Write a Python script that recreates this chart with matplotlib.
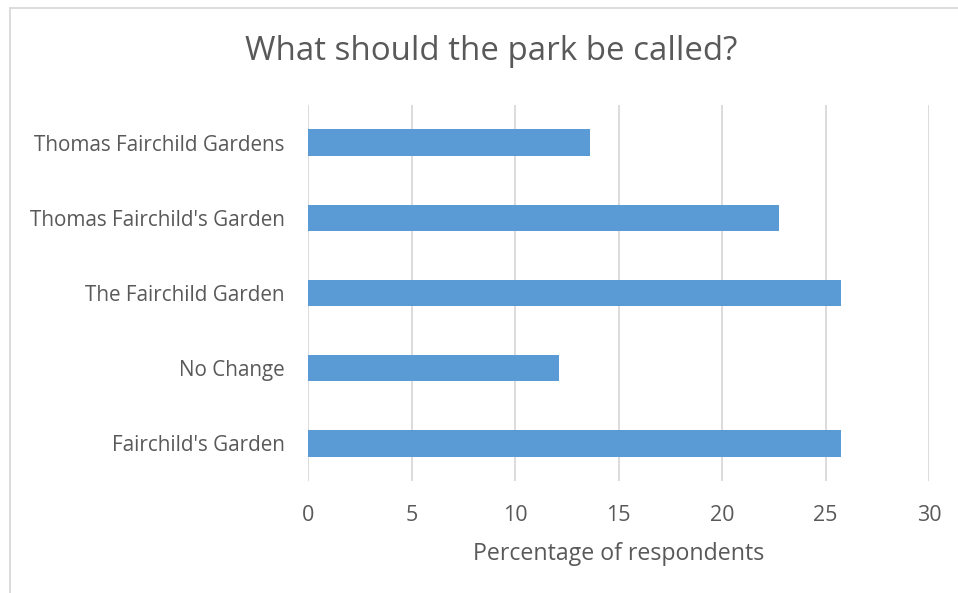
import matplotlib
matplotlib.use("Agg")
import matplotlib.pyplot as plt
from matplotlib.patches import Rectangle

categories = ["Fairchild's Garden", "No Change", "The Fairchild Garden",
              "Thomas Fairchild's Garden", "Thomas Fairchild Gardens"]
values = [25.76, 12.12, 25.76, 22.73, 13.64]
xticks = [0, 5, 10, 15, 20, 25, 30]

plt.rcParams['font.family'] = ['Open Sans', 'DejaVu Sans']
txt = '#595959'

fig = plt.figure(figsize=(9.58, 5.93), dpi=100)
W, H = 958, 593
ax = fig.add_axes([308 / W, 1 - 481 / H, (929 - 308) / W, (481 - 105) / H])

y = range(len(categories))
ax.barh(list(y), values, height=0.35, color='#5b9bd5', zorder=3)
ax.set_ylim(-0.5, len(categories) - 0.5)
ax.set_xlim(0, 30)
ax.set_xticks(xticks)
ax.set_xticklabels([str(t) for t in xticks])
ax.set_yticks(list(y))
ax.set_yticklabels(categories)
ax.grid(axis='x', color='#d9d9d9', linewidth=1.3, zorder=0)
for s in ax.spines.values():
    s.set_visible(False)
ax.tick_params(axis='both', length=0, colors=txt)
ax.tick_params(axis='y', labelsize=14.9, pad=17)
ax.tick_params(axis='x', labelsize=15.5, pad=17)
ax.set_xlabel("Percentage of respondents", fontsize=16.7, color=txt, labelpad=12)

fig.text(491 / W, 1 - 52 / H, "What should the park be called?", ha='center', va='center',
         fontsize=23.8, color=txt)

fig.patches.append(Rectangle((9.5 / W, -0.1), 1.2, 1 - 7.5 / H + 0.1,
                             transform=fig.transFigure, fill=False,
                             edgecolor='#d9d9d9', linewidth=1.3))

fig.savefig("out.png", dpi=100)
